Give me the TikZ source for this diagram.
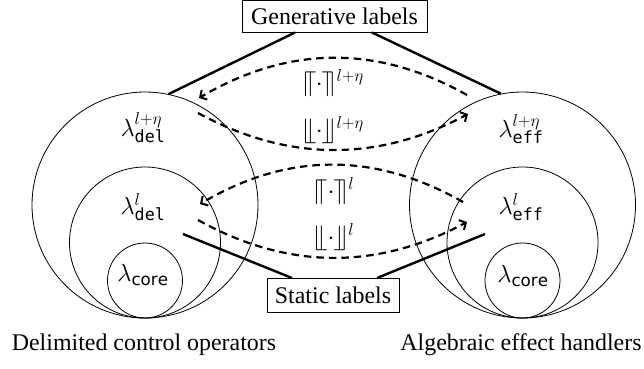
\documentclass[tikz,border=0pt]{standalone}
\usepackage{fontspec}
\setmainfont{Liberation Serif}
\setsansfont{DejaVu Sans}
\setmonofont{DejaVu Sans Mono}
\usepackage{stmaryrd}
\usetikzlibrary{arrows.meta}
\tikzset{
  every node/.style={font=\fontsize{24}{28}\selectfont},
  ring/.style={circle, draw, line width=0.8bp, inner sep=0pt},
  labelbox/.style={draw, line width=0.8bp, fill=white, inner sep=0pt},
  solidlink/.style={line width=2.4bp},
  dashlink/.style={line width=2.2bp, dash pattern=on 7.5bp off 5bp, -{Straight Barb[length=5bp,width=11bp,line width=2bp]}},
}
\begin{document}
\begin{tikzpicture}[x=1bp, y=-1bp]
\useasboundingbox (0,0) rectangle (644,368);
% circles left
\node[ring, minimum size=226bp] (Lbig) at (145,205) {};
\node[ring, minimum size=151bp] (Lmid) at (145,242.5) {};
\node[ring, minimum size=75bp] (Lsmall) at (145,280.5) {};
% circles right
\node[ring, minimum size=226bp] (Rbig) at (522.5,205) {};
\node[ring, minimum size=151bp] (Rmid) at (522.5,242.5) {};
\node[ring, minimum size=75bp] (Rsmall) at (522.5,280.5) {};
% circle labels
\node (Lt) at (143,128) {$\lambda^{l+\eta}_{\mathtt{del}}$};
\node (Lm) at (143,207) {$\lambda^{l}_{\mathtt{del}}$};
\node (Lc) at (143,275) {$\lambda_{\mathsf{core}}$};
\node (Rt) at (521,129) {$\lambda^{l+\eta}_{\mathtt{eff}}$};
\node (Rm) at (521,207) {$\lambda^{l}_{\mathtt{eff}}$};
\node (Rc) at (523,276) {$\lambda_{\mathsf{core}}$};
% boxes
\node[labelbox, minimum width=185bp, minimum height=32bp] (gen) at (334.5,16.5) {Generative labels};
\node[labelbox, minimum width=132bp, minimum height=34bp] (stat) at (333,295) {Static labels};
% connector endpoints
\coordinate (gL) at (295,32.5);
\coordinate (gR) at (372,32.5);
\coordinate (sL) at (292,278);
\coordinate (sR) at (377,278);
\coordinate (cL) at (183,234);
\coordinate (cR) at (485,234);
\draw[solidlink] (gL) -- (Lbig.78.8);
\draw[solidlink] (gR) -- (Rbig.101);
\draw[solidlink] (sL) -- (cL);
\draw[solidlink] (sR) -- (cR);
% dashed arrows
\coordinate (a1s) at (467,95);
\coordinate (a1e) at (199,98);
\coordinate (a2s) at (198,113);
\coordinate (a2e) at (468,114);
\coordinate (a3s) at (463,202);
\coordinate (a3e) at (200,204);
\coordinate (a4s) at (198,220);
\coordinate (a4e) at (467,222);
\draw[dashlink] (a1s) .. controls (378,45) and (289,45) .. (a1e);
\draw[dashlink] (a2s) .. controls (288,162) and (378,162) .. (a2e);
\draw[dashlink] (a3s) .. controls (375,152) and (288,152) .. (a3e);
\draw[dashlink] (a4s) .. controls (288,270) and (377,270) .. (a4e);
% bracket labels
\node (b1) at (333,83) {$\llceil\cdot\rrceil^{l+\eta}$};
\node (b2) at (333,130) {$\llfloor\cdot\rrfloor^{l+\eta}$};
\node (b3) at (334,191) {$\llceil\cdot\rrceil^{l}$};
\node (b4) at (334,237) {$\llfloor\cdot\rrfloor^{l}$};
% bottom captions
\node (capL) at (144,345) {Delimited control operators};
\node (capR) at (521,345) {Algebraic effect handlers};
\end{tikzpicture}
\end{document}
